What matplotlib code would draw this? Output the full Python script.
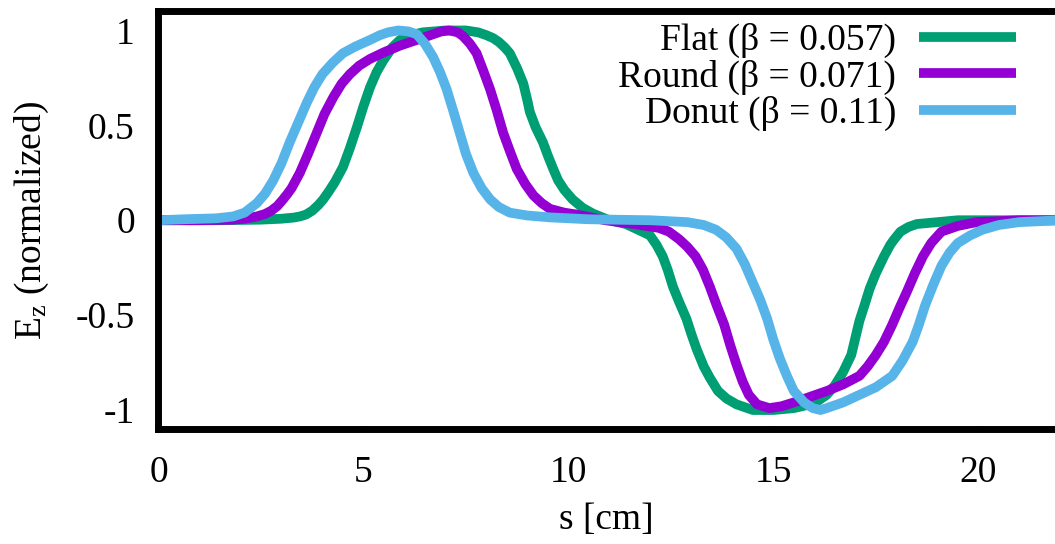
import matplotlib
matplotlib.use("Agg")
import matplotlib.pyplot as plt

# courbes : s [cm] et Ez normalise
s_flat = [0, 1.5, 2.5, 3.0, 3.3, 3.45, 3.6, 3.75, 3.9, 4.02, 4.15, 4.3, 4.5, 4.67, 4.84,
          5.0, 5.16, 5.32, 5.48, 5.7, 5.89, 6.15, 6.45, 7.0, 7.5, 7.8, 8.0, 8.16, 8.3,
          8.45, 8.57, 8.75, 8.9, 9.0, 9.06, 9.2, 9.38, 9.5, 9.63, 9.75, 9.9, 10.1, 10.35,
          10.6, 11.0, 11.4, 11.7, 11.99, 12.15, 12.3, 12.42, 12.55, 12.7, 12.88, 13.0,
          13.13, 13.3, 13.45, 13.65, 13.86, 14.1, 14.5, 15.0, 15.5, 15.8, 16.1, 16.3,
          16.5, 16.7, 16.9, 17.0, 17.1, 17.22, 17.35, 17.5, 17.7, 17.85, 17.95, 18.1,
          18.3, 18.5, 19.0, 19.5, 22]
ez_flat = [0, 0, 0.003, 0.008, 0.014, 0.02, 0.03, 0.05, 0.08, 0.11, 0.15, 0.2, 0.28,
           0.38, 0.49, 0.6, 0.70, 0.78, 0.84, 0.91, 0.95, 0.975, 0.99, 1.0, 1.0, 0.99,
           0.975, 0.96, 0.94, 0.91, 0.88, 0.80, 0.72, 0.63, 0.57, 0.49, 0.41, 0.34, 0.27,
           0.21, 0.16, 0.11, 0.065, 0.035, 0.0, -0.02, -0.05, -0.08, -0.13, -0.19, -0.26,
           -0.35, -0.43, -0.52, -0.6, -0.68, -0.77, -0.83, -0.9, -0.94, -0.97, -1.0, -1.0,
           -0.99, -0.975, -0.95, -0.92, -0.87, -0.8, -0.71, -0.62, -0.53, -0.45, -0.36,
           -0.28, -0.19, -0.13, -0.10, -0.06, -0.035, -0.02, -0.01, 0, 0]

s_round = [0, 1.0, 1.82, 2.1, 2.4, 2.6, 2.75, 2.9, 3.04, 3.15, 3.25, 3.45, 3.65, 3.86,
           4.05, 4.27, 4.47, 4.67, 4.9, 5.16, 5.5, 5.89, 6.3, 6.7, 6.9, 7.1, 7.3, 7.43,
           7.6, 7.76, 7.92, 8.09, 8.25, 8.41, 8.58, 8.74, 8.95, 9.15, 9.35, 9.55, 9.9,
           10.2, 10.9, 11.6, 12.2, 12.45, 12.7, 12.9, 13.1, 13.28, 13.45, 13.62, 13.8,
           13.95, 14.1, 14.25, 14.4, 14.6, 14.9, 15.2, 15.5, 15.9, 16.3, 16.7, 17.1, 17.3,
           17.5, 17.7, 17.9, 18.08, 18.25, 18.45, 18.65, 18.85, 19.1, 19.5, 19.96, 21, 22]
ez_round = [0, 0, 0.003, 0.008, 0.02, 0.033, 0.05, 0.075, 0.11, 0.14, 0.17, 0.25, 0.35,
            0.46, 0.56, 0.65, 0.72, 0.77, 0.815, 0.85, 0.885, 0.92, 0.95, 0.98, 0.995,
            1.0, 0.99, 0.97, 0.93, 0.88, 0.79, 0.69, 0.58, 0.46, 0.36, 0.27, 0.19, 0.13,
            0.09, 0.06, 0.04, 0.03, 0.0, -0.02, -0.04, -0.06, -0.10, -0.14, -0.19, -0.26,
            -0.35, -0.45, -0.55, -0.66, -0.76, -0.85, -0.92, -0.97, -0.99, -0.98, -0.96,
            -0.93, -0.90, -0.865, -0.82, -0.77, -0.71, -0.64, -0.55, -0.46, -0.38, -0.28,
            -0.19, -0.12, -0.06, -0.03, -0.01, 0, 0]

s_donut = [0, 0.6, 1.4, 1.82, 2.1, 2.4, 2.6, 2.8, 3.0, 3.2, 3.42, 3.62, 3.8, 4.0, 4.25,
           4.5, 4.8, 5.16, 5.4, 5.6, 5.85, 6.1, 6.3, 6.5, 6.7, 6.87, 7.03, 7.2, 7.35, 7.5,
           7.68, 7.88, 8.09, 8.3, 8.57, 9.0, 9.55, 10.5, 12.0, 12.9, 13.3, 13.6, 13.85,
           14.1, 14.3, 14.5, 14.68, 14.85, 15.0, 15.16, 15.33, 15.5, 15.75, 15.96, 16.15,
           16.3, 16.7, 17.1, 17.5, 17.9, 18.15, 18.4, 18.55, 18.7, 18.9, 19.1, 19.3, 19.5,
           19.8, 20.1, 20.5, 21, 22]
ez_donut = [0, 0.005, 0.01, 0.02, 0.04, 0.09, 0.14, 0.21, 0.3, 0.41, 0.52, 0.62, 0.7,
            0.77, 0.83, 0.88, 0.915, 0.95, 0.975, 0.99, 1.0, 0.995, 0.98, 0.93, 0.86, 0.78,
            0.69, 0.57, 0.46, 0.35, 0.25, 0.17, 0.11, 0.07, 0.04, 0.025, 0.015, 0.005, 0,
            -0.01, -0.025, -0.05, -0.09, -0.15, -0.23, -0.33, -0.42, -0.52, -0.63, -0.73,
            -0.82, -0.90, -0.96, -0.99, -1.0, -0.99, -0.96, -0.92, -0.88, -0.82, -0.74,
            -0.64, -0.55, -0.45, -0.34, -0.24, -0.17, -0.12, -0.08, -0.05, -0.025, -0.01, 0]

labels = ["Flat (β = 0.057)", "Round (β = 0.071)", "Donut (β = 0.11)"]
colors = ["#009E73", "#9400D3", "#56B4E9"]

x_ticks = [0, 5, 10, 15, 20]
y_ticks = [-1, -0.5, 0, 0.5, 1]
y_ticklabels = ["-1", "-0.5", "0", "0.5", "1"]

plt.rcParams["font.family"] = ["Liberation Serif", "DejaVu Serif"]
plt.rcParams["mathtext.fontset"] = "custom"
plt.rcParams["mathtext.rm"] = "Liberation Serif"
plt.rcParams["mathtext.it"] = "Liberation Serif:italic"

fig = plt.figure(figsize=(10.55, 5.44), dpi=100)
ax = fig.add_axes([0.1502, 0.2114, 0.8498, 0.7675])

curves = [(s_flat, ez_flat), (s_round, ez_round), (s_donut, ez_donut)]
for (s, ez), lab, col in zip(curves, labels, colors):
    ax.plot(s, ez, color=col, lw=7, label=lab, solid_joinstyle="round",
            solid_capstyle="butt")

ax.set_xlim(0, 21.87)
ax.set_ylim(-1.1, 1.1)
ax.set_xticks(x_ticks)
ax.set_yticks(y_ticks)
ax.set_yticklabels(y_ticklabels)

for side in ["left", "top", "bottom"]:
    ax.spines[side].set_linewidth(5)
ax.spines["right"].set_visible(False)

ax.tick_params(direction="in", length=2.5, width=1.5, labelsize=27, top=True, right=False)
ax.tick_params(axis="x", pad=19)
ax.tick_params(axis="y", pad=17)

ax.set_xlabel("s [cm]", fontsize=27, labelpad=9)
ax.set_ylabel(r"E$_\mathrm{z}$ (normalized)", fontsize=27, labelpad=18)

ax.legend(loc="upper right", bbox_to_anchor=(0.9565, 0.972), markerfirst=False,
          frameon=False, fontsize=27, handlelength=2.6, handletextpad=0.6,
          labelspacing=0.03, borderaxespad=0, borderpad=0)

fig.savefig("out.png", dpi=100)
